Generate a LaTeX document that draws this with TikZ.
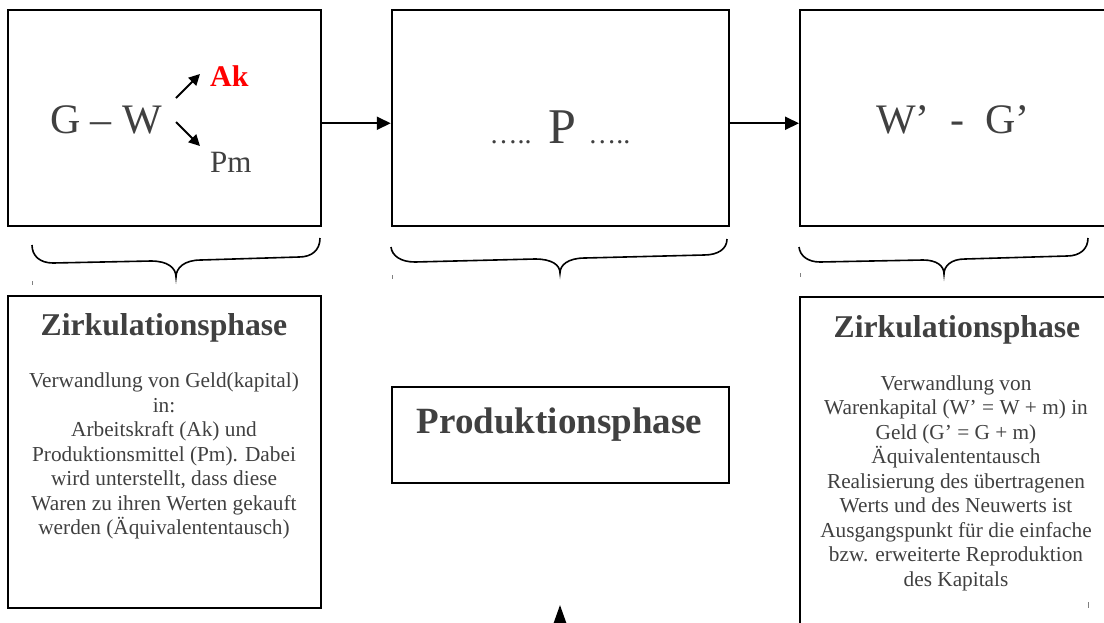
\documentclass[tikz,border=0pt]{standalone}
\usepackage{fontspec}
\setmainfont{Liberation Serif}
\usetikzlibrary{arrows.meta}
\definecolor{txtc}{HTML}{404040}
\begin{document}
\begin{tikzpicture}[x=1pt,y=-1pt,
  box/.style={draw=black,line width=2pt,rectangle,inner sep=0pt},
  txt/.style={text=txtc,inner sep=0pt},
  flow/.style={line width=2pt,-{Triangle[length=14pt,width=13pt]}},
  smallarrow/.style={line width=1.8pt,-{Triangle[length=11pt,width=11pt]}},
  brace/.style={line width=1.6pt},
  tick/.style={gray,line width=0.8pt}]
\useasboundingbox (0,0) rectangle (1104,622);
\clip (0,0) rectangle (1104,622);
% upper boxes
\node[box,minimum width=312.5pt,minimum height=216.5pt] (b1) at (164.25,117.75) {};
\node[box,minimum width=337pt,minimum height=216.5pt] (b2) at (560.25,117.75) {};
\node[box,minimum width=310pt,minimum height=216.5pt] (b3) at (955,117.75) {};
% lower boxes
\node[box,minimum width=312.5pt,minimum height=312pt] (b4) at (164.25,452) {};
\node[box,minimum width=337pt,minimum height=96pt] (b5) at (560.5,435) {};
\node[box,minimum width=310pt,minimum height=343pt] (b6) at (955,468.5) {};
% texts in upper boxes
\node[txt,anchor=base,font=\fontsize{42}{42}\selectfont] (gw) at (106,133) {G – W};
\node[anchor=base west,inner sep=0pt,text=red,font=\fontsize{30}{30}\selectfont\bfseries] (ak) at (210,86) {Ak};
\node[txt,anchor=base west,font=\fontsize{31}{31}\selectfont] (pm) at (210,172.5) {Pm};
\coordinate (a1s) at (176,98);
\coordinate (a1e) at (200,74);
\coordinate (a2s) at (176,122);
\coordinate (a2e) at (200,146);
\draw[smallarrow] (a1s) -- (a1e);
\draw[smallarrow] (a2s) -- (a2e);
\node[txt,anchor=base,font=\fontsize{50}{50}\selectfont] (pp) at (560,143) {{\fontsize{28}{28}\selectfont …..} P {\fontsize{28}{28}\selectfont …..}};
\node[txt,anchor=base,font=\fontsize{42}{42}\selectfont] (wg) at (953,133) {W’\ \ -\ \ G’};
% flow arrows
\draw[flow] ([yshift=-5.5pt]b1.east) -- ([yshift=-5.5pt]b2.west);
\draw[flow] ([yshift=-5.5pt]b2.east) -- ([yshift=-5.5pt]b3.west);
% braces
\draw[brace] (32,245) .. controls (32,256) and (40,263) .. (53,263) -- (151,261)
  .. controls (168,261) and (176,268) .. (176,277)
  .. controls (176,268) and (184,260) .. (201,260) -- (299,257)
  .. controls (312,257) and (320,250) .. (320,238);
\draw[brace] (391,247) .. controls (392,256) and (401,262) .. (415,262) -- (535,259)
  .. controls (552,259) and (560,265) .. (560,273)
  .. controls (560,265) and (568,258) .. (585,258) -- (704,255)
  .. controls (718,255) and (727,249) .. (727,239);
\draw[brace] (799,247) .. controls (800,256) and (808,262) .. (820,262) -- (923,260)
  .. controls (937,260) and (944,266) .. (944,274)
  .. controls (944,266) and (951,259) .. (965,259) -- (1067,256)
  .. controls (1080,256) and (1088,249) .. (1088,238);
% tiny marks
\draw[tick] (32,281) -- (32,285);
\draw[tick] (392,275) -- (392,279);
\draw[tick] (800,273) -- (800,277);
\draw[tick] (1088,602) -- (1088,608);
% lower box texts
\node[txt,anchor=base,font=\fontsize{31.7}{31.7}\selectfont\bfseries] (t4) at (164,335) {Zirkulationsphase};
\node[txt,anchor=north,align=center,font=\fontsize{21.3}{24.5}\selectfont] (d4) at (164,373) {Verwandlung von Geld(kapital)\\in:\\Arbeitskraft (Ak) und\\Produktionsmittel (Pm). Dabei\\wird unterstellt, dass diese\\Waren zu ihren Werten gekauft\\werden (Äquivalententausch)};
\node[txt,anchor=base,font=\fontsize{37}{37}\selectfont\bfseries] (t5) at (559.5,433) {Produktionsphase};
\node[txt,anchor=base,font=\fontsize{31.7}{31.7}\selectfont\bfseries] (t6) at (957,337) {Zirkulationsphase};
\node[txt,anchor=north,align=center,font=\fontsize{21.3}{24.5}\selectfont] (d6) at (956,375.5) {Verwandlung von\\Warenkapital (W’ = W + m) in\\Geld (G’ = G + m)\\Äquivalententausch\\Realisierung des übertragenen\\Werts und des Neuwerts ist\\Ausgangspunkt für die einfache\\bzw. erweiterte Reproduktion\\des Kapitals};
% bottom arrow (cut off)
\coordinate (abot) at (560,680);
\coordinate (atip) at (560,605);
\draw[line width=2pt,-{Triangle[length=22pt,width=15pt]}] (abot) -- (atip);
\end{tikzpicture}
\end{document}
